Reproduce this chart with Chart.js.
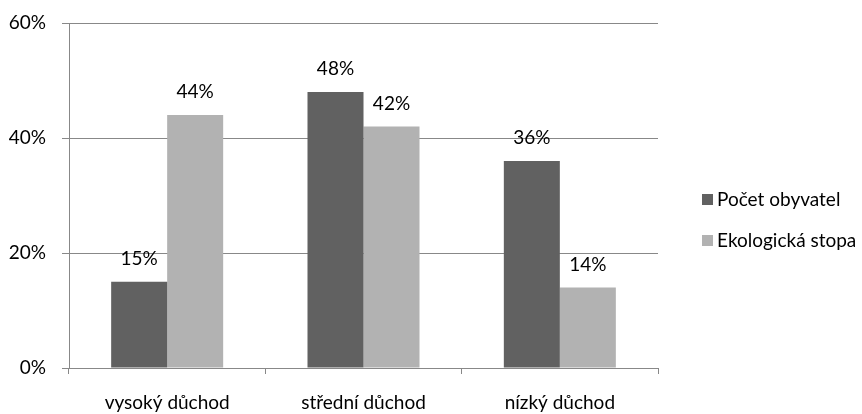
<!DOCTYPE html>
<html>
<head>
<meta charset="utf-8">
<script src="https://cdn.jsdelivr.net/npm/chart.js@4/dist/chart.umd.min.js"></script>
<style>
  html, body { margin: 0; padding: 0; background: #fff; }
  #wrap { width: 862px; height: 414px; }
</style>
</head>
<body>
<div id="wrap"><canvas id="chart" width="862" height="414"></canvas></div>
<script>
const categories = ["vysoký důchod", "střední důchod", "nízký důchod"];
const seriesNames = ["Počet obyvatel", "Ekologická stopa"];
const population = [15, 48, 36];
const footprint = [44, 42, 14];
const yTicks = [0, 20, 40, 60];

const FONT = "Lato, 'Open Sans', sans-serif";
const FONT_SIZE = 19;
const colors = ["#616161", "#b2b2b2"];
const gridColor = "#888888";

// value labels above each bar
const valueLabels = {
  id: "valueLabels",
  afterDatasetsDraw(chart) {
    const ctx = chart.ctx;
    ctx.save();
    ctx.font = FONT_SIZE + "px " + FONT;
    ctx.fillStyle = "#000";
    ctx.textAlign = "center";
    ctx.textBaseline = "alphabetic";
    chart.data.datasets.forEach((ds, i) => {
      chart.getDatasetMeta(i).data.forEach((bar, j) => {
        ctx.fillText(ds.data[j] + "%", bar.x, bar.y - 17);
      });
    });
    ctx.restore();
  }
};

// legend on the right, one row per series
const sideLegend = {
  id: "sideLegend",
  afterDraw(chart) {
    const ctx = chart.ctx;
    ctx.save();
    ctx.font = FONT_SIZE + "px " + FONT;
    ctx.textBaseline = "middle";
    ctx.textAlign = "left";
    const rows = [200, 241];
    seriesNames.forEach((name, i) => {
      ctx.fillStyle = colors[i];
      ctx.fillRect(702, rows[i] - 6, 11, 11);
      ctx.fillStyle = "#000";
      ctx.fillText(name, 717, rows[i]);
    });
    ctx.restore();
  }
};

new Chart(document.getElementById("chart"), {
  type: "bar",
  data: {
    labels: categories,
    datasets: [
      { label: seriesNames[0], data: population, backgroundColor: colors[0] },
      { label: seriesNames[1], data: footprint, backgroundColor: colors[1] }
    ]
  },
  options: {
    responsive: false,
    animation: false,
    layout: { padding: { top: 23, right: 204, left: 0, bottom: 0 } },
    datasets: { bar: { categoryPercentage: 0.5705, barPercentage: 1 } },
    plugins: { legend: { display: false }, tooltip: { enabled: false } },
    scales: {
      x: {
        afterFit: s => { s.height = 46; s.paddingLeft = 0; s.paddingRight = 0; },
        grid: { display: true, drawOnChartArea: false, drawTicks: true, tickLength: 6, offset: true, color: gridColor },
        border: { display: true, color: gridColor },
        ticks: { font: { family: FONT, size: FONT_SIZE }, color: "#000", padding: 17, maxRotation: 0 }
      },
      y: {
        min: 0,
        max: 60,
        afterFit: s => { s.width = 69; s.paddingTop = 0; s.paddingBottom = 0; },
        afterBuildTicks: s => { s.ticks = yTicks.map(v => ({ value: v })); },
        grid: { color: gridColor, tickLength: 7 },
        border: { display: true, color: gridColor },
        ticks: { font: { family: FONT, size: FONT_SIZE }, color: "#000", padding: 16, callback: v => v + "%" }
      }
    }
  },
  plugins: [valueLabels, sideLegend]
});
</script>
</body>
</html>
